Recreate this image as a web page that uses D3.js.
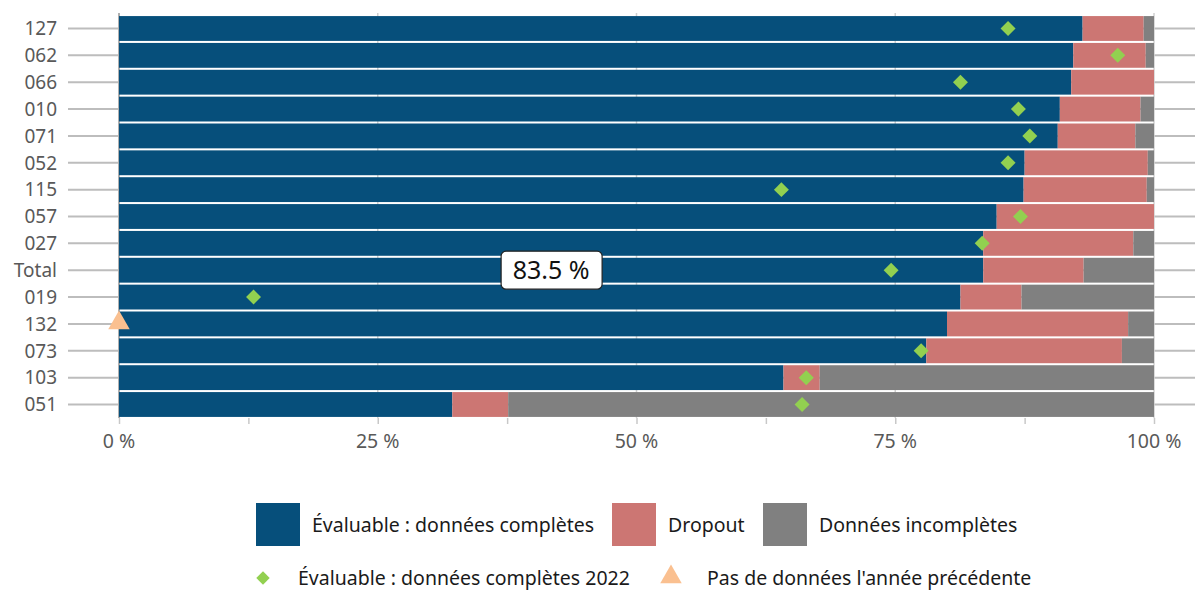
<!DOCTYPE html>
<html>
<head>
<meta charset="utf-8">
<script src="https://cdn.jsdelivr.net/npm/d3@7"></script>
<style>
    body { margin: 0; background: #fff; }
    svg { display: block; font-family: 'Noto Sans', sans-serif; }
    .tick-label { fill: #595959; }
    .legend-text { fill: #1a1a1a; font-size: 19.5px; }
</style>
</head>
<body>
<div id="chart"></div>
<script>
const categories = ['127', '062', '066', '010', '071', '052', '115', '057', '027', 'Total', '019', '132', '073', '103', '051'];
const complete   = [93.1, 92.2, 92.0, 90.9, 90.7, 87.5, 87.4, 84.8, 83.5, 83.5, 81.3, 80.0, 78.0, 64.2, 32.2];
const dropout    = [5.9, 7.0, 8.0, 7.8, 7.5, 11.9, 11.9, 15.2, 14.5, 9.7, 5.9, 17.5, 18.9, 3.5, 5.4];
const incomplete = [1.0, 0.8, 0.0, 1.3, 1.8, 0.6, 0.7, 0.0, 2.0, 6.8, 12.8, 2.5, 3.1, 32.3, 62.4];
// 2022 value; null = no data previous year (drawn as triangle at 0)
const prev2022   = [85.9, 96.5, 81.3, 86.9, 88.0, 85.9, 64.0, 87.1, 83.4, 74.6, 13.0, null, 77.5, 66.4, 66.0];
const xTicks     = [0, 25, 50, 75, 100];
const minorTicks = [0, 12.5, 25, 37.5, 50, 62.5, 75, 87.5, 100];

const seriesNames = ['Évaluable : données complètes', 'Dropout', 'Données incomplètes'];
const colors = ['#064f7b', '#cc7673', '#808080'];
const green = '#92d050', peach = '#fac090';

const width = 1195, height = 590;

const svg = d3.select('#chart').append('svg')
    .attr('width', width)
    .attr('height', height);

const x = d3.scaleLinear().domain([0, 100]).range([119, 1154]);
const y = d3.scaleBand().domain(categories).range([15, 418]).paddingInner(0.075).paddingOuter(0.04);

// horizontal gridlines at row centres (visible at sides)
svg.append('g')
    .selectAll('line')
    .data(categories)
    .join('line')
    .attr('x1', 68).attr('x2', width)
    .attr('y1', d => y(d) + y.bandwidth() / 2)
    .attr('y2', d => y(d) + y.bandwidth() / 2)
    .attr('stroke', '#bdbdbd')
    .attr('stroke-width', 2);

// vertical gridlines
svg.append('g')
    .selectAll('line')
    .data(xTicks)
    .join('line')
    .attr('x1', d => x(d)).attr('x2', d => x(d))
    .attr('y1', 13).attr('y2', 418)
    .attr('stroke', d => d === 0 ? '#b0b0b0' : '#d0d0d0')
    .attr('stroke-width', d => d === 0 ? 2 : 1.5);

// stacked bars
const rows = categories.map((c, i) => ({ cat: c, vals: [complete[i], dropout[i], incomplete[i]] }));
const stackData = rows.map(r => {
    let acc = 0;
    return r.vals.map((v, k) => {
        const s = { cat: r.cat, x0: acc, x1: acc + v, k: k };
        acc += v;
        return s;
    });
}).flat();

svg.append('g')
    .selectAll('rect')
    .data(stackData)
    .join('rect')
    .attr('x', d => x(d.x0))
    .attr('y', d => y(d.cat))
    .attr('width', d => Math.max(0, x(d.x1) - x(d.x0)))
    .attr('height', y.bandwidth())
    .attr('fill', d => colors[d.k]);

// bottom axis
const xAxis = svg.append('g')
    .attr('transform', 'translate(0,418)')
    .call(d3.axisBottom(x).tickValues(minorTicks).tickSize(6).tickFormat(''));
xAxis.select('.domain').remove();
xAxis.selectAll('.tick line').attr('stroke', '#c8c8c8').attr('stroke-width', 1.5);

svg.append('g')
    .selectAll('text')
    .data(xTicks)
    .join('text')
    .attr('class', 'tick-label')
    .attr('font-size', 19.5)
    .attr('x', d => x(d))
    .attr('y', 448)
    .attr('text-anchor', 'middle')
    .text(d => d + ' %');

// y labels
svg.append('g')
    .selectAll('text')
    .data(categories)
    .join('text')
    .attr('class', 'tick-label')
    .attr('font-size', 19)
    .attr('x', 57)
    .attr('y', d => y(d) + y.bandwidth() / 2)
    .attr('dy', '0.36em')
    .attr('text-anchor', 'end')
    .text(d => d);

// 2022 markers
const markers = categories.map((c, i) => ({ cat: c, v: prev2022[i] }));
svg.append('g')
    .selectAll('path')
    .data(markers.filter(d => d.v !== null))
    .join('path')
    .attr('d', d3.symbol(d3.symbolSquare, 112))
    .attr('transform', d => `translate(${x(d.v)},${y(d.cat) + y.bandwidth() / 2}) rotate(45)`)
    .attr('fill', green);

svg.append('g')
    .selectAll('path')
    .data(markers.filter(d => d.v === null))
    .join('path')
    .attr('d', d3.symbol(d3.symbolTriangle, 200))
    .attr('transform', d => `translate(${x(0)},${y(d.cat) + y.bandwidth() / 2 - 1})`)
    .attr('fill', peach);

// Total label
const ti = categories.indexOf('Total');
const lbl = svg.append('g')
    .attr('transform', `translate(${x(complete[ti] / 2)},${y('Total') + y.bandwidth() / 2})`);
lbl.append('rect')
    .attr('x', -50).attr('y', -19).attr('width', 101).attr('height', 38)
    .attr('rx', 5)
    .attr('fill', '#fff').attr('stroke', '#222').attr('stroke-width', 1.2);
lbl.append('text')
    .attr('text-anchor', 'middle')
    .attr('dy', '0.36em')
    .attr('font-size', 25)
    .attr('fill', '#111')
    .text(d3.format('.1f')(complete[ti]) + ' %');

// legend
const leg1 = [
    { name: seriesNames[0], color: colors[0], x: 256 },
    { name: seriesNames[1], color: colors[1], x: 612 },
    { name: seriesNames[2], color: colors[2], x: 763 }
];
const lg = svg.append('g');
lg.selectAll('rect')
    .data(leg1)
    .join('rect')
    .attr('x', d => d.x).attr('y', 503)
    .attr('width', 44).attr('height', 43)
    .attr('fill', d => d.color);
lg.selectAll('text.l1')
    .data(leg1)
    .join('text')
    .attr('class', 'legend-text l1')
    .attr('x', d => d.x + 56)
    .attr('y', 525)
    .attr('dy', '0.35em')
    .text(d => d.name);

lg.append('path')
    .attr('d', d3.symbol(d3.symbolSquare, 90))
    .attr('transform', 'translate(263,578) rotate(45)')
    .attr('fill', green);
lg.append('text')
    .attr('class', 'legend-text')
    .attr('x', 298).attr('y', 578).attr('dy', '0.35em')
    .text('Évaluable : données complètes 2022');
lg.append('path')
    .attr('d', d3.symbol(d3.symbolTriangle, 200))
    .attr('transform', 'translate(671,577)')
    .attr('fill', peach);
lg.append('text')
    .attr('class', 'legend-text')
    .attr('x', 707).attr('y', 578).attr('dy', '0.35em')
    .text("Pas de données l'année précédente");
</script>
</body>
</html>
